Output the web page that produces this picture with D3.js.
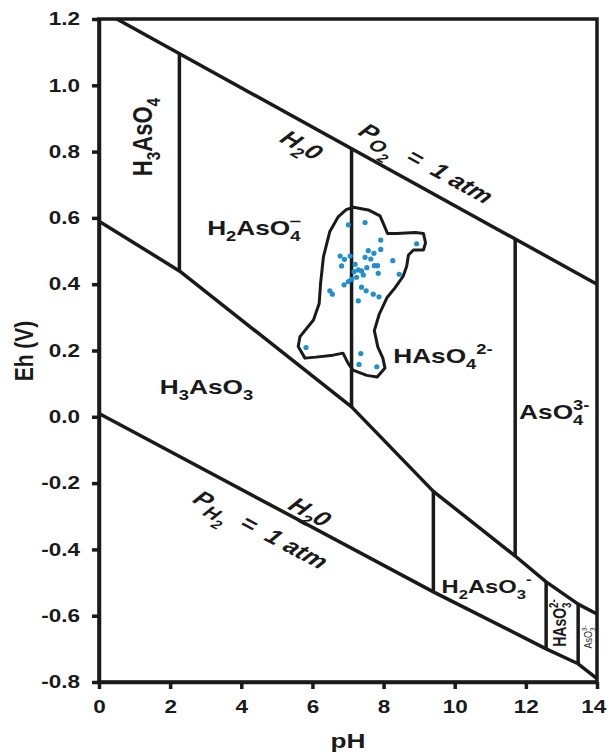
<!DOCTYPE html>
<html>
<head>
<meta charset="utf-8">
<script src="https://cdn.jsdelivr.net/npm/d3@7"></script>
<style>
  body { margin: 0; background: #fff; }
  text { font-family: "Liberation Sans", Arial, sans-serif; fill: #1a1a1a; white-space: pre; }
</style>
</head>
<body>
<div id="chart"></div>
<script>
// tick values
var phTicks = [0, 2, 4, 6, 8, 10, 12, 14]
var ehTicks = [-0.8, -0.6, -0.4, -0.2, 0.0, 0.2, 0.4, 0.6, 0.8, 1.0, 1.2]

// water stability limits [pH, Eh]
var o2Line = [[0.5, 1.2], [14, 0.4]]
var h2Line = [[0, 0.01], [9.4, -0.528], [12.57, -0.70], [13.47, -0.745], [14, -0.79]]

// As(V) / As(III) boundary
var redoxLine = [[0, 0.59], [2.26, 0.44], [7.1, 0.03], [9.4, -0.225], [11.7, -0.42], [12.57, -0.498], [13.47, -0.565], [14, -0.595]]

// vertical pKa boundaries: pH, top Eh, bottom Eh
var vPh = [2.26, 7.1, 11.7, 9.4, 12.57, 13.47]
var vTop = [1.095, 0.81, 0.535, -0.225, -0.498, -0.565]
var vBottom = [0.44, 0.03, -0.42, -0.528, -0.70, -0.745]

// sample field outline [pH, Eh]
var fieldOutline = [
  [7.15, 0.632], [7.57, 0.624], [7.9, 0.606], [8.01, 0.579], [8.11, 0.553], [8.37, 0.553],
  [8.9, 0.556], [9.12, 0.553], [9.18, 0.525], [9.12, 0.503], [8.84, 0.503], [8.7, 0.488],
  [8.65, 0.454], [8.55, 0.424], [8.32, 0.389], [8.1, 0.36], [7.88, 0.31], [7.74, 0.26],
  [7.84, 0.21], [7.98, 0.177], [8.04, 0.147], [7.82, 0.12], [7.53, 0.125], [7.14, 0.141],
  [7.0, 0.162], [6.86, 0.192], [6.58, 0.186], [6.1, 0.18], [5.79, 0.177], [5.6, 0.212],
  [5.65, 0.242], [6.03, 0.292], [6.19, 0.342], [6.23, 0.403], [6.31, 0.483], [6.49, 0.559],
  [6.73, 0.604], [6.95, 0.625]
]

// water samples
var samplePh = [7.01, 7.48, 7.92, 8.93, 7.57, 7.92, 7.73, 6.78, 6.90, 7.06, 7.48, 7.64, 8.26,
  6.82, 7.20, 7.53, 7.74, 7.83, 7.29, 7.38, 7.17, 7.85, 8.44, 7.43, 7.24, 7.10, 7.01, 6.89,
  7.38, 7.51, 6.49, 6.56, 7.71, 7.87, 7.29, 5.82, 7.36, 7.31, 7.81]
var sampleEh = [0.579, 0.586, 0.533, 0.522, 0.501, 0.505, 0.493, 0.485, 0.475, 0.485, 0.481, 0.476, 0.471,
  0.455, 0.460, 0.450, 0.456, 0.456, 0.443, 0.440, 0.438, 0.433, 0.430, 0.428, 0.421, 0.415, 0.408, 0.398,
  0.391, 0.380, 0.380, 0.370, 0.370, 0.362, 0.350, 0.209, 0.191, 0.158, 0.151]

var W = 608, H = 755
var margin = {left: 99, right: 11, top: 19, bottom: 73}
var stretch = 1.25
var ink = "#1a1a1a"

var svg = d3.select("#chart").append("svg").attr("width", W).attr("height", H)

var x = d3.scaleLinear().domain([0, 14]).range([margin.left, W - margin.right])
var y = d3.scaleLinear().domain([-0.8, 1.2]).range([H - margin.bottom, margin.top])

var line = d3.line().x(d => x(d[0])).y(d => y(d[1]))

// boundaries
var g = svg.append("g").attr("fill", "none").attr("stroke", ink).attr("stroke-width", 3.5)
  .attr("stroke-linejoin", "round")
g.append("path").attr("d", line(o2Line))
g.append("path").attr("d", line(h2Line))
g.append("path").attr("d", line(redoxLine))
vPh.forEach(function(p, i) {
  g.append("line").attr("x1", x(p)).attr("x2", x(p)).attr("y1", y(vTop[i])).attr("y2", y(vBottom[i]))
})

// sample field
svg.append("path")
  .attr("d", d3.line().x(d => x(d[0])).y(d => y(d[1])).curve(d3.curveLinearClosed)(fieldOutline))
  .attr("fill", "none").attr("stroke", ink).attr("stroke-width", 3).attr("stroke-linejoin", "round")

svg.append("g").selectAll("circle")
  .data(samplePh)
  .enter().append("circle")
  .attr("cx", d => x(d))
  .attr("cy", (d, i) => y(sampleEh[i]))
  .attr("r", 2.6)
  .attr("fill", "#1f8fcd")

// frame
svg.append("rect")
  .attr("x", x(0)).attr("y", y(1.2)).attr("width", x(14) - x(0)).attr("height", y(-0.8) - y(1.2))
  .attr("fill", "none").attr("stroke", ink).attr("stroke-width", 3.5)

// axes
var yAxis = svg.append("g").attr("transform", "translate(" + x(0) + ",0)")
  .call(d3.axisLeft(y).tickValues(ehTicks).tickSize(7).tickSizeOuter(0).tickFormat(d => d.toFixed(1)))
var xAxis = svg.append("g").attr("transform", "translate(0," + y(-0.8) + ")")
  .call(d3.axisBottom(x).tickValues(phTicks).tickSize(7).tickSizeOuter(0).tickPadding(11))

svg.selectAll(".domain").attr("stroke", ink).attr("stroke-width", 3.5)
svg.selectAll(".tick line").attr("stroke", ink).attr("stroke-width", 3.5)
svg.selectAll(".tick text").attr("font-size", 18).attr("font-weight", "bold")
  .attr("font-family", null).attr("fill", ink)
  .attr("transform", "scale(" + stretch + ",1)")
yAxis.selectAll(".tick text").attr("x", -19 / stretch)
xAxis.selectAll(".tick text").filter(d => d == 14).attr("x", -3)

// axis titles
svg.append("text").attr("transform", "translate(348,748) scale(" + stretch + ",1)")
  .attr("text-anchor", "middle").attr("font-size", 21).attr("font-weight", "bold").text("pH")
svg.append("text").attr("transform", "translate(33,351) scale(" + stretch + ",1) rotate(-90)")
  .attr("text-anchor", "middle").attr("font-size", 21).attr("font-weight", "bold").text("Eh (V)")

// labels with sub / superscripts
function richText(sel, parts, size) {
  var t = sel.append("text").attr("font-size", size)
  var shift = 0, lastSub = null
  parts.forEach(function(p) {
    var kind = p[1] || "", target = 0, fs = size
    if (kind == "sub") { target = size * 0.3; fs = size * 0.7 }
    if (kind == "psub") { target = size * 0.3; fs = size * 0.8 }
    if (kind == "sub2") { target = size * 0.6; fs = size * 0.6 }
    if (kind == "sup" || kind == "stack") { target = -size * 0.45; fs = size * 0.7 }
    var ts = t.append("tspan").text(p[0]).attr("font-size", fs).attr("dy", target - shift)
    if (kind == "stack" && lastSub) ts.attr("dx", -lastSub.node().getComputedTextLength())
    shift = target
    lastSub = kind == "sub" ? ts : null
  })
  return t
}

function lineAngle(pts) {
  var a = pts[0], b = pts[pts.length - 1]
  var phi = Math.atan2(y(b[1]) - y(a[1]), x(b[0]) - x(a[0]))
  return Math.atan(stretch * Math.tan(phi)) * 180 / Math.PI
}

var labels = [
  {parts: [["H"], ["3", "sub"], ["AsO"], ["4", "sub"]], ph: 1.21, eh: 0.844, rot: -90, size: 22, anchor: "middle"},
  {parts: [["H"], ["2", "sub"], ["AsO"], ["4", "sub"], ["\u2012", "stack"]], ph: 3.04, eh: 0.548, size: 21},
  {parts: [["H"], ["3", "sub"], ["AsO"], ["3", "sub"]], ph: 1.71, eh: 0.069, size: 21},
  {parts: [["HAsO"], ["4", "sub"], ["2-", "sup"]], ph: 8.27, eh: 0.162, size: 21},
  {parts: [["AsO"], ["4", "sub"], ["3-", "stack"]], ph: 11.81, eh: -0.007, size: 21},
  {parts: [["H"], ["2", "sub"], ["AsO"], ["3", "sub"], ["-", "sup"]], ph: 9.63, eh: -0.531, size: 19},
  {parts: [["HAsO"], ["3", "sub"], ["2-", "stack"]], ph: 12.96, eh: -0.622, rot: -90, size: 14, anchor: "middle"},
  {parts: [["AsO"], ["3", "sub"], ["3-", "stack"]], ph: 13.75, eh: -0.664, rot: -90, size: 9, anchor: "middle", light: true},
  {parts: [["H"], ["2", "sub"], ["0"]], ph: 5.7, eh: 0.82, along: o2Line, size: 21, italic: true, anchor: "middle"},
  {parts: [["P"], ["O", "psub"], ["2", "sub2"], ["  =  1 atm"]], ph: 9.2, eh: 0.765, along: o2Line, size: 21, italic: true, anchor: "middle"},
  {parts: [["H"], ["2", "sub"], ["0"]], ph: 5.93, eh: -0.287, along: h2Line, size: 21, italic: true, anchor: "middle"},
  {parts: [["P"], ["H", "psub"], ["2", "sub2"], ["  =  1 atm"]], ph: 4.55, eh: -0.34, along: h2Line, size: 21, italic: true, anchor: "middle"}
]

labels.forEach(function(l) {
  var rot = l.along ? lineAngle(l.along) : (l.rot || 0)
  var lg = svg.append("g")
    .attr("transform", "translate(" + x(l.ph) + "," + y(l.eh) + ") scale(" + stretch + ",1) rotate(" + rot + ")")
  var t = richText(lg, l.parts, l.size)
  t.attr("text-anchor", l.anchor || "start")
  if (!l.light) t.attr("font-weight", "bold")
  if (l.anchor == "middle") t.attr("y", l.size * 0.35)
  if (l.italic) t.attr("font-style", "italic")
})
</script>
</body>
</html>
